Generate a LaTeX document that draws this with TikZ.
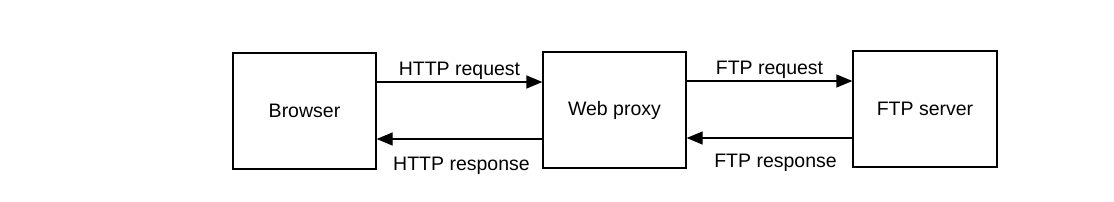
\documentclass[tikz,border=0pt]{standalone}
\usepackage{fontspec}
\setmainfont{Liberation Sans}
\usepackage{tikz}
\usetikzlibrary{arrows.meta}

\tikzset{
  hostbox/.style={draw,line width=1.3pt,minimum width=143pt,minimum height=116pt,inner sep=0pt},
  msgarrow/.style={line width=1.3pt,-{Triangle[length=16pt,width=13pt]}},
  msglabel/.style={font=\fontsize{19.5}{23}\selectfont,inner sep=0pt}
}

\begin{document}
\begin{tikzpicture}[x=1pt,y=-1pt,font=\fontsize{19.5}{23}\selectfont]
  \useasboundingbox (0,0) rectangle (1114,201);
  \node[hostbox] (browser) at (304.5,111) {Browser};
  \node[hostbox] (proxy) at (614.5,110) {Web proxy};
  \node[hostbox,minimum width=144pt] (ftpserver) at (925,109) {FTP server};
  \draw[msgarrow] ([yshift=29pt]browser.east) -- ([yshift=29pt]browser.east -| proxy.west)
    node[msglabel,midway,above=2pt] {HTTP request};
  \draw[msgarrow] ([yshift=-28pt]browser.east -| proxy.west) -- ([yshift=-28pt]browser.east)
    node[msglabel,midway,below=17pt,xshift=2pt] {HTTP response};
  \draw[msgarrow] ([yshift=29pt]proxy.east) -- ([yshift=29pt]proxy.east -| ftpserver.west)
    node[msglabel,midway,above=2pt] {FTP request};
  \draw[msgarrow] ([yshift=-28pt]proxy.east -| ftpserver.west) -- ([yshift=-28pt]proxy.east)
    node[msglabel,midway,below=15pt,xshift=6pt] {FTP response};
\end{tikzpicture}
\end{document}
